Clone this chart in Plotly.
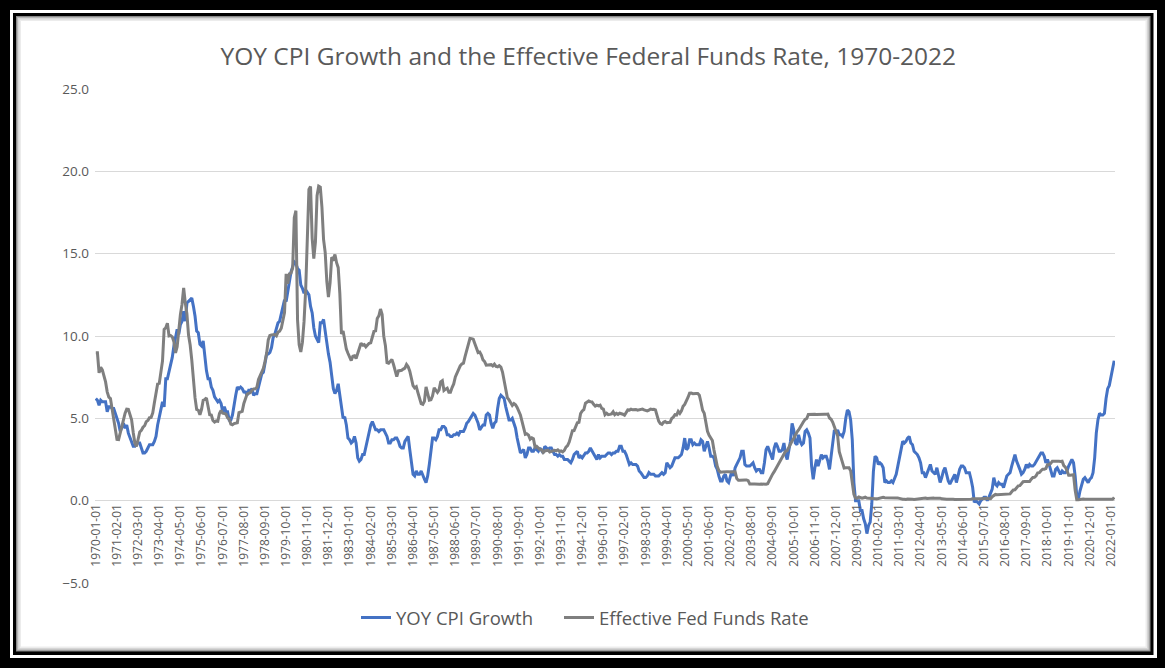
import plotly.graph_objects as go

# ---------------- data (monthly, 1970-01 .. 2022-03) ----------------
start_year = 1970
end_year, end_month = 2022, 3

cpi_yoy = [
    6.2, 6.1, 5.8, 6.1, 6.0, 6.0, 6.0, 5.4, 5.7, 5.7, 5.6, 5.6,      # 1970
    5.3, 5.0, 4.7, 4.2, 4.4, 4.7, 4.4, 4.6, 4.1, 3.8, 3.5, 3.3,      # 1971
    3.3, 3.5, 3.5, 3.5, 3.2, 2.9, 2.9, 3.0, 3.2, 3.4, 3.4, 3.4,      # 1972
    3.6, 3.9, 4.6, 5.1, 5.5, 6.0, 5.7, 7.4, 7.4, 7.8, 8.3, 8.7,      # 1973
    9.4, 10.0, 10.4, 10.1, 10.7, 10.9, 11.5, 10.9, 12.0, 12.1, 12.2, 12.3,  # 1974
    11.8, 11.2, 10.3, 10.2, 9.5, 9.4, 9.7, 8.6, 7.9, 7.4, 7.4, 6.9,  # 1975
    6.7, 6.3, 6.1, 6.0, 6.1, 5.9, 5.4, 5.7, 5.4, 5.4, 4.9, 4.9,      # 1976
    5.2, 5.9, 6.4, 6.9, 6.8, 6.9, 6.8, 6.6, 6.6, 6.4, 6.7, 6.7,      # 1977
    6.8, 6.4, 6.5, 6.5, 6.9, 7.4, 7.7, 7.8, 8.3, 8.9, 8.9, 9.0,      # 1978
    9.3, 9.9, 10.1, 10.5, 10.8, 10.9, 11.3, 11.8, 12.2, 12.1, 12.6, 13.3,  # 1979
    13.9, 14.2, 14.5, 14.4, 14.1, 14.0, 13.1, 12.9, 12.6, 12.8, 12.6, 12.5,  # 1980
    11.8, 11.4, 10.5, 10.0, 9.8, 9.6, 10.8, 10.8, 11.0, 10.1, 9.6, 8.9,  # 1981
    8.4, 7.6, 6.8, 6.5, 6.7, 7.1, 6.4, 5.9, 5.0, 5.1, 4.6, 3.8,      # 1982
    3.7, 3.5, 3.6, 3.9, 3.5, 2.6, 2.4, 2.5, 2.8, 2.8, 3.3, 3.8,      # 1983
    4.2, 4.6, 4.8, 4.6, 4.3, 4.3, 4.2, 4.3, 4.3, 4.3, 4.1, 3.9,      # 1984
    3.5, 3.5, 3.7, 3.7, 3.8, 3.8, 3.6, 3.3, 3.2, 3.2, 3.6, 3.8,      # 1985
    3.9, 3.1, 2.2, 1.6, 1.5, 1.8, 1.6, 1.6, 1.8, 1.5, 1.3, 1.1,      # 1986
    1.5, 2.2, 3.0, 3.8, 3.8, 3.7, 3.9, 4.3, 4.3, 4.5, 4.5, 4.4,      # 1987
    4.0, 4.0, 3.9, 3.9, 4.0, 4.0, 4.1, 4.0, 4.2, 4.2, 4.2, 4.4,      # 1988
    4.7, 4.8, 5.0, 5.1, 5.3, 5.2, 5.0, 4.7, 4.3, 4.5, 4.6, 4.6,      # 1989
    5.2, 5.3, 5.2, 4.7, 4.4, 4.7, 4.8, 5.6, 6.2, 6.4, 6.3, 6.2,      # 1990
    5.7, 5.3, 4.9, 4.9, 5.0, 4.7, 4.4, 3.8, 3.4, 2.9, 3.0, 3.1,      # 1991
    2.6, 2.8, 3.2, 3.2, 3.0, 3.0, 3.2, 3.1, 3.0, 3.2, 3.0, 2.9,      # 1992
    3.3, 3.2, 3.1, 3.2, 3.2, 3.0, 2.8, 2.8, 2.7, 2.8, 2.7, 2.7,      # 1993
    2.5, 2.5, 2.5, 2.4, 2.3, 2.5, 2.8, 2.9, 3.0, 2.6, 2.7, 2.6,      # 1994
    2.8, 2.9, 2.9, 3.0, 3.2, 3.0, 2.8, 2.6, 2.5, 2.8, 2.6, 2.7,      # 1995
    2.7, 2.7, 2.8, 2.9, 2.9, 2.8, 2.9, 2.9, 3.0, 3.0, 3.3, 3.3,      # 1996
    3.0, 3.0, 2.8, 2.5, 2.2, 2.3, 2.2, 2.2, 2.2, 2.1, 1.8, 1.7,      # 1997
    1.5, 1.4, 1.4, 1.5, 1.7, 1.6, 1.6, 1.6, 1.5, 1.5, 1.5, 1.6,      # 1998
    1.7, 1.6, 1.7, 2.3, 2.1, 2.0, 2.1, 2.3, 2.6, 2.6, 2.6, 2.7,      # 1999
    2.8, 3.2, 3.8, 3.1, 3.2, 3.7, 3.7, 3.4, 3.5, 3.4, 3.4, 3.4,      # 2000
    3.7, 3.6, 3.0, 3.3, 3.6, 3.2, 2.7, 2.7, 2.6, 2.1, 1.9, 1.5,      # 2001
    1.2, 1.2, 1.5, 1.6, 1.2, 1.1, 1.5, 1.8, 1.5, 2.0, 2.2, 2.4,      # 2002
    2.6, 3.0, 3.0, 2.2, 2.1, 2.1, 2.1, 2.2, 2.3, 2.0, 1.8, 1.9,      # 2003
    1.9, 1.7, 1.7, 2.3, 3.1, 3.3, 3.0, 2.7, 2.5, 3.2, 3.5, 3.3,      # 2004
    3.0, 3.0, 3.1, 3.5, 2.8, 2.5, 3.2, 3.6, 4.7, 4.3, 3.5, 3.4,      # 2005
    4.0, 3.6, 3.4, 3.5, 4.2, 4.3, 4.1, 3.8, 2.1, 1.3, 2.0, 2.5,      # 2006
    2.1, 2.4, 2.8, 2.6, 2.7, 2.7, 2.4, 1.9, 2.8, 3.5, 4.3, 4.1,      # 2007
    4.3, 4.0, 4.0, 3.9, 4.2, 5.0, 5.5, 5.4, 4.9, 3.7, 1.1, 0.0,      # 2008
    0.0, 0.0, -0.6, -0.6, -1.1, -1.4, -2.0, -1.5, -1.3, -0.2, 1.8, 2.7,  # 2009
    2.6, 2.2, 2.3, 2.2, 2.0, 1.1, 1.2, 1.1, 1.1, 1.2, 1.1, 1.4,      # 2010
    1.6, 2.1, 2.6, 3.2, 3.6, 3.5, 3.6, 3.8, 3.9, 3.5, 3.4, 3.0,      # 2011
    2.9, 2.8, 2.6, 2.3, 1.7, 1.7, 1.4, 1.7, 2.0, 2.2, 1.8, 1.7,      # 2012
    1.6, 2.0, 1.5, 1.1, 1.4, 1.8, 2.0, 1.5, 1.2, 1.0, 1.2, 1.5,      # 2013
    1.6, 1.1, 1.5, 1.9, 2.1, 2.1, 2.0, 1.7, 1.7, 1.7, 1.3, 0.8,      # 2014
    -0.1, 0.0, -0.1, -0.2, 0.0, 0.1, 0.2, 0.2, 0.0, 0.2, 0.5, 0.7,   # 2015
    1.4, 1.0, 0.9, 1.1, 1.0, 1.0, 0.8, 1.1, 1.5, 1.6, 1.7, 2.1,      # 2016
    2.5, 2.8, 2.4, 2.2, 1.9, 1.6, 1.7, 1.9, 2.2, 2.0, 2.2, 2.1,      # 2017
    2.1, 2.2, 2.4, 2.5, 2.8, 2.9, 2.9, 2.7, 2.3, 2.5, 2.2, 1.9,      # 2018
    1.5, 1.5, 1.9, 2.0, 1.8, 1.6, 1.8, 1.7, 1.7, 1.8, 2.1, 2.3,      # 2019
    2.5, 2.3, 1.5, 0.3, 0.1, 0.6, 1.0, 1.3, 1.4, 1.2, 1.1, 1.3,      # 2020
    1.4, 1.7, 2.6, 4.1, 4.9, 5.3, 5.2, 5.2, 5.3, 6.2, 6.8, 7.0,      # 2021
    7.5, 7.9, 8.5,                                                   # 2022
]

fed_funds = [
    8.98, 8.98, 7.76, 8.10, 7.94, 7.60, 7.21, 6.61, 6.29, 6.20, 5.60, 4.90,   # 1970
    4.14, 3.72, 3.71, 4.16, 4.63, 4.91, 5.31, 5.56, 5.55, 5.20, 4.91, 4.14,   # 1971
    3.50, 3.29, 3.83, 4.17, 4.27, 4.46, 4.55, 4.80, 4.87, 5.04, 5.06, 5.33,   # 1972
    5.94, 6.58, 7.09, 7.12, 7.84, 8.49, 10.40, 10.50, 10.78, 10.01, 10.03, 9.95,  # 1973
    9.65, 8.97, 9.35, 10.51, 11.31, 11.93, 12.92, 12.01, 11.34, 10.06, 9.45, 8.53,  # 1974
    7.13, 6.24, 5.54, 5.49, 5.22, 5.55, 6.10, 6.14, 6.24, 5.82, 5.22, 5.20,   # 1975
    4.87, 4.77, 4.84, 4.82, 5.29, 5.48, 5.31, 5.29, 5.25, 5.03, 4.95, 4.65,   # 1976
    4.61, 4.68, 4.69, 4.73, 5.35, 5.39, 5.42, 5.90, 6.14, 6.47, 6.51, 6.56,   # 1977
    6.70, 6.78, 6.79, 6.89, 7.36, 7.60, 7.81, 8.04, 8.45, 8.96, 9.76, 10.03,  # 1978
    10.07, 10.06, 10.09, 10.01, 10.24, 10.29, 10.47, 10.94, 11.43, 13.77, 13.18, 13.78,  # 1979
    13.82, 14.13, 17.19, 17.61, 10.98, 9.47, 9.03, 9.61, 10.87, 12.81, 15.85, 18.90,  # 1980
    19.08, 15.93, 14.70, 15.72, 18.52, 19.10, 19.04, 17.82, 15.87, 15.08, 13.31, 12.37,  # 1981
    13.22, 14.78, 14.68, 14.94, 14.45, 14.15, 12.59, 10.12, 10.31, 9.71, 9.20, 8.95,  # 1982
    8.68, 8.51, 8.77, 8.80, 8.63, 8.98, 9.37, 9.56, 9.45, 9.48, 9.34, 9.47,   # 1983
    9.56, 9.59, 9.91, 10.29, 10.32, 11.06, 11.23, 11.64, 11.30, 9.99, 9.43, 8.38,  # 1984
    8.35, 8.50, 8.58, 8.27, 7.97, 7.53, 7.88, 7.90, 7.92, 7.99, 8.05, 8.27,   # 1985
    8.14, 7.86, 7.48, 6.99, 6.85, 6.92, 6.56, 6.17, 5.89, 5.85, 6.04, 6.91,   # 1986
    6.43, 6.10, 6.13, 6.37, 6.85, 6.73, 6.58, 6.73, 7.22, 7.29, 6.69, 6.77,   # 1987
    6.83, 6.58, 6.58, 6.87, 7.09, 7.51, 7.75, 8.01, 8.19, 8.30, 8.35, 8.76,   # 1988
    9.12, 9.36, 9.85, 9.84, 9.81, 9.53, 9.24, 8.99, 9.02, 8.84, 8.55, 8.45,   # 1989
    8.23, 8.24, 8.28, 8.26, 8.18, 8.29, 8.15, 8.13, 8.20, 8.11, 7.81, 7.31,   # 1990
    6.91, 6.25, 6.12, 5.91, 5.78, 5.90, 5.82, 5.66, 5.45, 5.21, 4.81, 4.43,   # 1991
    4.03, 4.06, 3.98, 3.73, 3.82, 3.76, 3.25, 3.30, 3.22, 3.10, 3.09, 2.92,   # 1992
    3.02, 3.03, 3.07, 2.96, 3.00, 3.04, 3.06, 3.03, 3.09, 2.99, 3.02, 2.96,   # 1993
    3.05, 3.25, 3.34, 3.56, 4.01, 4.25, 4.26, 4.47, 4.73, 4.76, 5.29, 5.45,   # 1994
    5.53, 5.92, 5.98, 6.05, 6.01, 6.00, 5.85, 5.74, 5.80, 5.76, 5.80, 5.60,   # 1995
    5.56, 5.22, 5.31, 5.22, 5.24, 5.27, 5.40, 5.22, 5.30, 5.24, 5.31, 5.29,   # 1996
    5.25, 5.19, 5.39, 5.51, 5.50, 5.56, 5.52, 5.54, 5.54, 5.50, 5.52, 5.50,   # 1997
    5.56, 5.51, 5.49, 5.45, 5.49, 5.56, 5.54, 5.55, 5.51, 5.07, 4.83, 4.68,   # 1998
    4.63, 4.76, 4.81, 4.74, 4.74, 4.76, 4.99, 5.07, 5.22, 5.20, 5.42, 5.30,   # 1999
    5.45, 5.73, 5.85, 6.02, 6.27, 6.53, 6.54, 6.50, 6.52, 6.51, 6.51, 6.40,   # 2000
    5.98, 5.49, 5.31, 4.80, 4.21, 3.97, 3.77, 3.65, 3.07, 2.49, 2.09, 1.82,   # 2001
    1.73, 1.74, 1.73, 1.75, 1.75, 1.75, 1.73, 1.74, 1.75, 1.75, 1.34, 1.24,   # 2002
    1.24, 1.26, 1.25, 1.26, 1.26, 1.22, 1.01, 1.03, 1.01, 1.01, 1.00, 0.98,   # 2003
    1.00, 1.01, 1.00, 1.00, 1.00, 1.03, 1.26, 1.43, 1.61, 1.76, 1.93, 2.16,   # 2004
    2.28, 2.50, 2.63, 2.79, 3.00, 3.04, 3.26, 3.50, 3.62, 3.78, 4.00, 4.16,   # 2005
    4.29, 4.49, 4.59, 4.79, 4.94, 4.99, 5.24, 5.25, 5.25, 5.25, 5.25, 5.24,   # 2006
    5.25, 5.26, 5.26, 5.25, 5.25, 5.25, 5.26, 5.02, 4.94, 4.76, 4.49, 4.24,   # 2007
    3.94, 2.98, 2.61, 2.28, 1.98, 2.00, 2.01, 2.00, 1.81, 0.97, 0.39, 0.16,   # 2008
    0.15, 0.22, 0.18, 0.15, 0.18, 0.21, 0.16, 0.16, 0.15, 0.12, 0.12, 0.12,   # 2009
    0.11, 0.13, 0.16, 0.20, 0.20, 0.18, 0.18, 0.19, 0.19, 0.19, 0.19, 0.18,   # 2010
    0.17, 0.16, 0.14, 0.10, 0.09, 0.09, 0.07, 0.10, 0.08, 0.07, 0.08, 0.07,   # 2011
    0.08, 0.10, 0.13, 0.14, 0.16, 0.16, 0.16, 0.13, 0.14, 0.16, 0.16, 0.16,   # 2012
    0.14, 0.15, 0.14, 0.15, 0.11, 0.09, 0.09, 0.08, 0.08, 0.09, 0.08, 0.09,   # 2013
    0.07, 0.07, 0.08, 0.09, 0.09, 0.10, 0.09, 0.09, 0.09, 0.09, 0.09, 0.12,   # 2014
    0.11, 0.11, 0.11, 0.12, 0.12, 0.13, 0.13, 0.14, 0.14, 0.12, 0.12, 0.24,   # 2015
    0.34, 0.38, 0.36, 0.37, 0.37, 0.38, 0.39, 0.40, 0.40, 0.40, 0.41, 0.54,   # 2016
    0.65, 0.66, 0.79, 0.90, 0.91, 1.04, 1.15, 1.16, 1.15, 1.15, 1.16, 1.30,   # 2017
    1.41, 1.42, 1.51, 1.69, 1.70, 1.82, 1.91, 1.91, 1.95, 2.19, 2.20, 2.27,   # 2018
    2.40, 2.40, 2.41, 2.42, 2.39, 2.38, 2.40, 2.13, 2.04, 1.83, 1.55, 1.55,   # 2019
    1.55, 1.58, 0.65, 0.05, 0.05, 0.08, 0.09, 0.10, 0.09, 0.09, 0.09, 0.09,   # 2020
    0.09, 0.08, 0.07, 0.07, 0.06, 0.08, 0.10, 0.09, 0.08, 0.08, 0.08, 0.08,   # 2021
    0.08, 0.08, 0.20,                                                         # 2022
]

months = []
for y in range(start_year, end_year + 1):
    for m in range(1, 13):
        if y == end_year and m > end_month:
            break
        months.append(f"{y}-{m:02d}-01")

tick_labels = months[::13]          # 1970-01-01, 1971-02-01, ... 2022-01-01
y_ticks = [-5, 0, 5, 10, 15, 20, 25]

# ---------------- figure ----------------
W, H = 1165, 668
ML, MR, MT, MB = 95, 50, 89, 85
PW, PH = W - ML - MR, H - MT - MB

def px(x):
    return (x - ML) / PW

def py(y):
    return (H - MB - y) / PH

fig = go.Figure()
fig.add_trace(go.Scatter(x=months, y=cpi_yoy, mode="lines", name="YOY CPI Growth",
                         line=dict(color="#4472C4", width=3), legend="legend"))
fig.add_trace(go.Scatter(x=months, y=fed_funds, mode="lines", name="Effective Fed Funds Rate",
                         line=dict(color="#7F7F7F", width=3), legend="legend2"))

shapes = []
def rect(x0, y0, x1, y1, fill=None):
    shapes.append(dict(type="rect", xref="paper", yref="paper", layer="below",
                       x0=px(x0), x1=px(x1), y0=py(y0), y1=py(y1),
                       line=dict(width=0), fillcolor=fill))

rect(10, 10, 1157, 658, fill="white")
rect(13, 13, 1153.5, 655, fill="black")
rect(16, 16, 1150.5, 651.5, fill="#8a8a8a")
rect(17, 17, 1149.5, 650.5, fill="#b5b5b5")
rect(18, 18, 1148.5, 649.5, fill="#d6d6d6")
rect(19.5, 19.5, 1147, 648, fill="#ececec")
rect(21, 21, 1145.5, 646.5, fill="white")

legend_style = dict(orientation="h", xanchor="left", y=py(618), yanchor="middle",
                    font=dict(size=18.5, color="#595959"), bgcolor="rgba(0,0,0,0)",
                    itemwidth=30)

fig.update_layout(
    width=W, height=H,
    margin=dict(l=ML, r=MR, t=MT, b=MB, autoexpand=False),
    paper_bgcolor="black",
    plot_bgcolor="rgba(0,0,0,0)",
    shapes=shapes,
    font=dict(family="Open Sans", color="#595959"),
    title=dict(text="YOY CPI Growth and the Effective Federal Funds Rate, 1970-2022",
               x=0.505, xanchor="center", xref="container",
               y=1 - 56 / H, yanchor="middle", yref="container",
               font=dict(size=24.5, color="#595959", family="Open Sans")),
    showlegend=True,
    legend=dict(x=px(356), **legend_style),
    legend2=dict(x=px(559), **legend_style),
    xaxis=dict(type="category", range=[-0.5, len(months) - 0.5],
               tickmode="array", tickvals=tick_labels, ticktext=tick_labels,
               tickangle=-90, tickfont=dict(size=12, color="#595959"),
               showgrid=False, showline=False, zeroline=False, ticks="",
               anchor="free", position=5 / 30, automargin=False),
    yaxis=dict(range=[-5, 25], tickmode="array", tickvals=y_ticks, tickformat=".1f",
               tickfont=dict(size=13.5, color="#595959"),
               showgrid=True, gridcolor="#D9D9D9", gridwidth=1,
               zeroline=False, showline=False, ticks="", ticklabelstandoff=5,
               automargin=False),
)

fig.write_html("out.html", config={"displayModeBar": False},
               post_script="document.body.style.margin='0';document.body.style.overflow='hidden';")
